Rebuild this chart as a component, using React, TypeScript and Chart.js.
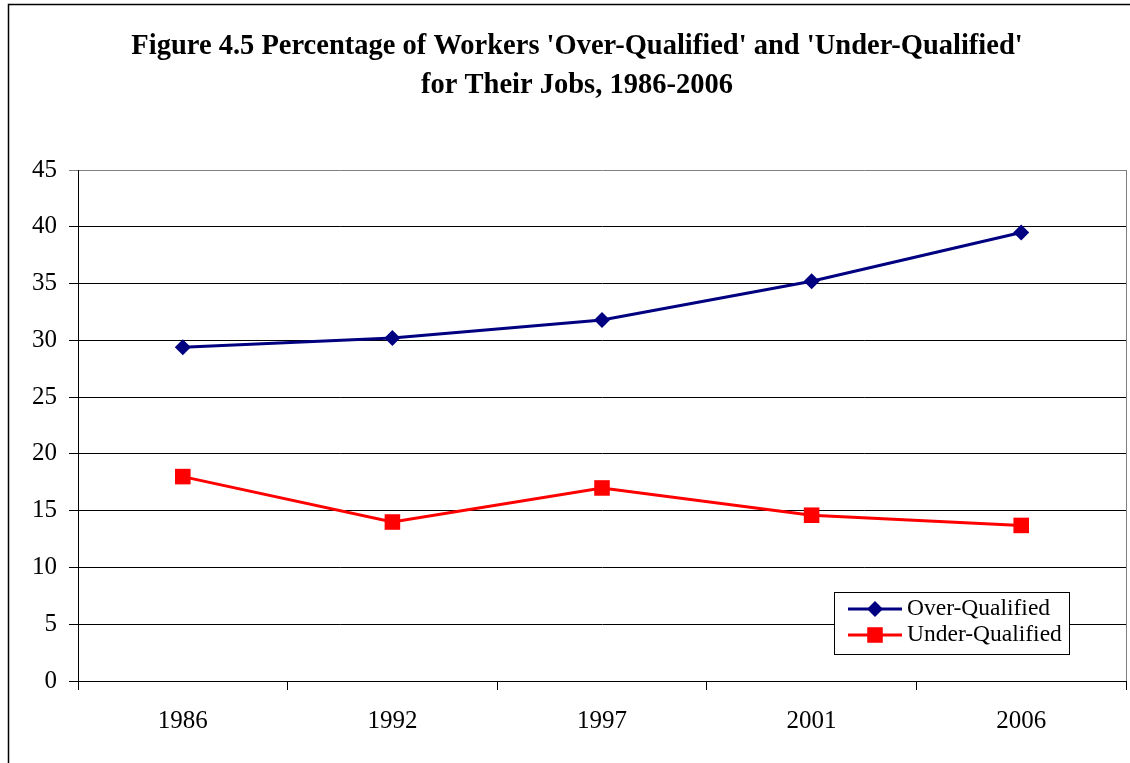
import React, { useEffect, useRef } from "react";
import { Chart, registerables } from "chart.js";

Chart.register(...registerables);

const years: string[] = ["1986", "1992", "1997", "2001", "2006"];
const overQualified: number[] = [29.4, 30.2, 31.8, 35.2, 39.5];
const underQualified: number[] = [18.0, 14.0, 17.0, 14.6, 13.7];
const titleLines: string[] = [
  "Figure 4.5 Percentage of Workers 'Over-Qualified' and 'Under-Qualified'",
  "for Their Jobs, 1986-2006",
];
const seriesNames: string[] = ["Over-Qualified", "Under-Qualified"];

const SERIF = "'Liberation Serif', 'Times New Roman', serif";

const framePlugin = {
  id: "framePlugin",
  beforeDraw(chart: any) {
    const ctx = chart.ctx;
    ctx.save();
    ctx.fillStyle = "#ffffff";
    ctx.fillRect(0, 0, chart.width, chart.height);
    ctx.strokeStyle = "#000000";
    ctx.lineWidth = 1.5;
    ctx.beginPath();
    ctx.moveTo(8.5, chart.height + 5);
    ctx.lineTo(8.5, 4.5);
    ctx.lineTo(chart.width + 5, 4.5);
    ctx.stroke();
    ctx.restore();
  },
  afterDatasetsDraw(chart: any) {
    const ctx = chart.ctx;
    const a = chart.chartArea;
    ctx.save();
    // right border of plot area
    ctx.strokeStyle = "#808080";
    ctx.lineWidth = 1;
    ctx.beginPath();
    ctx.moveTo(Math.round(a.right) + 0.5, a.top);
    ctx.lineTo(Math.round(a.right) + 0.5, a.bottom);
    ctx.stroke();

    // legend box
    const bx = 834.5, by = 592.5, bw = 235, bh = 62;
    ctx.fillStyle = "#ffffff";
    ctx.fillRect(bx, by, bw, bh);
    ctx.strokeStyle = "#000000";
    ctx.lineWidth = 1;
    ctx.strokeRect(bx, by, bw, bh);
    const rows = [609, 635];
    chart.data.datasets.forEach((ds: any, i: number) => {
      const y = rows[i];
      ctx.strokeStyle = ds.borderColor;
      ctx.lineWidth = ds.borderWidth;
      ctx.beginPath();
      ctx.moveTo(848, y);
      ctx.lineTo(902, y);
      ctx.stroke();
      ctx.fillStyle = ds.pointBackgroundColor;
      ctx.beginPath();
      if (ds.pointStyle === "rectRot") {
        const r = ds.pointRadius;
        ctx.moveTo(875, y - r);
        ctx.lineTo(875 + r, y);
        ctx.lineTo(875, y + r);
        ctx.lineTo(875 - r, y);
        ctx.closePath();
      } else {
        const s = ds.pointRadius * Math.SQRT1_2;
        ctx.rect(875 - s, y - s, 2 * s, 2 * s);
      }
      ctx.fill();
      ctx.fillStyle = "#000000";
      ctx.font = `23.5px ${SERIF}`;
      ctx.textBaseline = "middle";
      ctx.textAlign = "left";
      ctx.fillText(ds.label, 907, y);
    });
    ctx.restore();
  },
};

export default function App() {
  const ref = useRef<HTMLCanvasElement | null>(null);

  useEffect(() => {
    if (!ref.current) return;
    const chart = new Chart(ref.current, {
      type: "line",
      data: {
        labels: years,
        datasets: [
          {
            label: seriesNames[0],
            data: overQualified,
            borderColor: "#000080",
            backgroundColor: "#000080",
            pointBackgroundColor: "#000080",
            pointBorderColor: "#000080",
            borderWidth: 3,
            pointStyle: "rectRot",
            pointRadius: 8,
            pointBorderWidth: 0,
            tension: 0,
          },
          {
            label: seriesNames[1],
            data: underQualified,
            borderColor: "#ff0000",
            backgroundColor: "#ff0000",
            pointBackgroundColor: "#ff0000",
            pointBorderColor: "#ff0000",
            borderWidth: 3,
            pointStyle: "rect",
            pointRadius: 11,
            pointBorderWidth: 0,
            tension: 0,
          },
        ],
      },
      options: {
        animation: false,
        responsive: true,
        maintainAspectRatio: false,
        layout: { padding: { left: 28, right: 28, top: 0, bottom: 0 } },
        plugins: {
          legend: { display: false },
          tooltip: { enabled: false },
          title: {
            display: true,
            text: titleLines,
            color: "#000000",
            font: { family: SERIF, size: 28.5, weight: "bold", lineHeight: 39 / 28.5 },
            padding: { top: 27.5, bottom: 64.5 },
          },
        },
        scales: {
          x: {
            offset: true,
            grid: {
              offset: true,
              drawOnChartArea: false,
              drawTicks: true,
              tickLength: 9,
              color: "#000000",
            },
            border: { display: true, color: "#000000", width: 1 },
            ticks: {
              color: "#000000",
              font: { family: SERIF, size: 25 },
              padding: 16,
              maxRotation: 0,
            },
            afterFit(scale: any) {
              scale.height = 82;
            },
          },
          y: {
            min: 0,
            max: 45,
            ticks: {
              stepSize: 5,
              color: "#000000",
              font: { family: SERIF, size: 25 },
              padding: 12,
            },
            grid: {
              tickLength: 9,
              color: (c: any) => (c.index === 9 ? "#808080" : "#000000"),
              lineWidth: 1,
            },
            border: { display: true, color: "#000000", width: 1 },
            afterFit(scale: any) {
              scale.width = 50;
            },
          },
        },
      },
      plugins: [framePlugin],
    });
    return () => chart.destroy();
  }, []);

  return (
    <div
      style={{
        position: "fixed",
        left: 0,
        top: 0,
        width: 1130,
        height: 763,
        overflow: "hidden",
        background: "#fff",
      }}
    >
      <div style={{ position: "absolute", left: 0, top: 0, width: 1154, height: 763 }}>
        <canvas ref={ref} />
      </div>
    </div>
  );
}
